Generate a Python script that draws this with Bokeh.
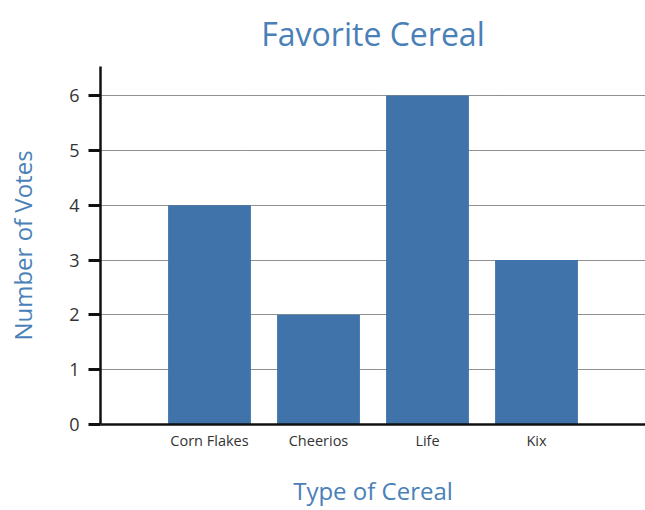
from bokeh.plotting import figure
from bokeh.models import FactorRange, Range1d, FixedTicker
from bokeh.embed import file_html
from bokeh.resources import INLINE

cereals = ["Corn Flakes", "Cheerios", "Life", "Kix"]
votes = [4, 2, 6, 3]
y_ticks = [0, 1, 2, 3, 4, 5, 6]

BLUE_TEXT = "#4a80b8"
BAR = "#3f73aa"
FONT = "Open Sans"

p = figure(
    width=645, height=510,
    x_range=FactorRange(factors=cereals, range_padding=0.5, range_padding_units="absolute"),
    y_range=Range1d(0, 6.53),
    output_backend="svg", toolbar_location=None,
    min_border_left=100, min_border_right=0, min_border_top=66, min_border_bottom=86,
    title="Favorite Cereal",
)

p.vbar(x=cereals, top=votes, width=0.76, color=BAR, line_color=None)

p.title.align = "center"
p.title.vertical_align = "top"
p.title.text_font = FONT
p.title.text_font_size = "32px"
p.title.text_font_style = "normal"
p.title.text_color = BLUE_TEXT
p.title.standoff = 19

p.outline_line_color = None
p.xgrid.grid_line_color = None
p.ygrid.grid_line_color = "#222222"
p.ygrid.grid_line_dash = "1 1"
p.ygrid.grid_line_width = 1

p.yaxis.ticker = FixedTicker(ticks=y_ticks)
p.yaxis.minor_tick_line_color = None
p.yaxis.major_tick_out = 12
p.yaxis.major_tick_in = 0
p.yaxis.major_tick_line_width = 3
p.yaxis.major_tick_line_color = "#111111"
p.yaxis.major_label_standoff = 9
p.yaxis.major_label_text_font = FONT
p.yaxis.major_label_text_font_size = "18px"
p.yaxis.major_label_text_color = "#333333"
p.yaxis.axis_line_width = 2.5
p.yaxis.axis_line_color = "#111111"
p.yaxis.axis_label = "Number of Votes"
p.yaxis.axis_label_text_font = FONT
p.yaxis.axis_label_text_font_size = "24px"
p.yaxis.axis_label_text_font_style = "normal"
p.yaxis.axis_label_text_color = BLUE_TEXT
p.yaxis.axis_label_standoff = 27

p.xaxis.major_tick_line_color = None
p.xaxis.major_tick_out = 0
p.xaxis.major_tick_in = 0
p.xaxis.minor_tick_line_color = None
p.xaxis.major_label_standoff = 6
p.xaxis.major_label_text_font = FONT
p.xaxis.major_label_text_font_size = "14.5px"
p.xaxis.major_label_text_color = "#333333"
p.xaxis.axis_line_width = 2.5
p.xaxis.axis_line_color = "#111111"
p.xaxis.axis_label = "Type of Cereal"
p.xaxis.axis_label_text_font = FONT
p.xaxis.axis_label_text_font_size = "24px"
p.xaxis.axis_label_text_font_style = "normal"
p.xaxis.axis_label_text_color = BLUE_TEXT
p.xaxis.axis_label_standoff = 21

open("out.html", "w").write(file_html(p, INLINE))
